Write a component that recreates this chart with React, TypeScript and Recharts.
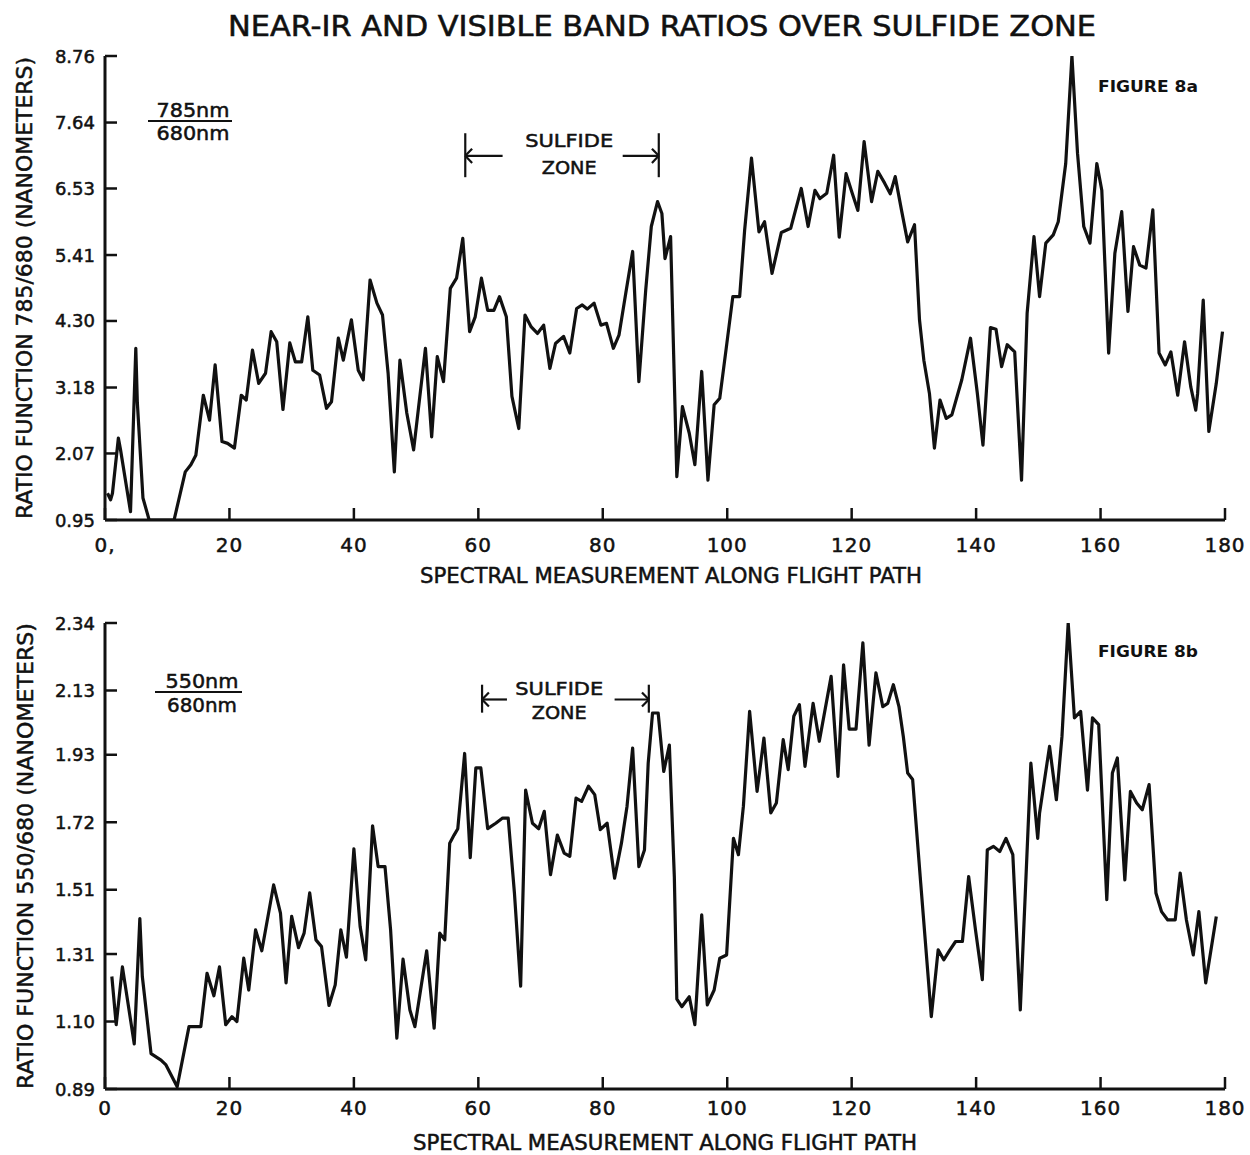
import React from 'react';
import { LineChart, Line, XAxis, YAxis, ReferenceLine, ReferenceDot } from 'recharts';

// ---------- data ----------
const xTicks = [0, 20, 40, 60, 80, 100, 120, 140, 160, 180];
const topXTickLabels = ['0,', '20', '40', '60', '80', '100', '120', '140', '160', '180'];
const bottomXTickLabels = ['0', '20', '40', '60', '80', '100', '120', '140', '160', '180'];
const topYTicks = [0.95, 2.07, 3.18, 4.3, 5.41, 6.53, 7.64, 8.76];
const bottomYTicks = [0.89, 1.1, 1.31, 1.51, 1.72, 1.93, 2.13, 2.34];

// Figure 8a : 785nm / 680nm
const topX = [
  0.4, 0.9, 1.2, 2.15, 2.5, 4.1, 4.95, 5.2, 6.1, 7.1, 11.1, 12.9, 13.8, 14.6, 15.8, 16.8, 17.7, 18.8, 19.7, 20.8,
  21.9, 22.7, 23.7, 24.7, 25.8, 26.7, 27.6, 28.6, 29.7, 30.6, 31.6, 32.6, 33.4, 34.5, 35.6, 36.4, 37.5, 38.3, 39.6, 40.7,
  41.5, 42.6, 43.7, 44.6, 45.5, 46.5, 47.4, 48.5, 49.6, 51.5, 52.5, 53.4, 54.4, 55.5, 56.5, 57.5, 58.6, 59.5, 60.5, 61.5,
  62.5, 63.4, 64.5, 65.4, 66.5, 67.5, 68.5, 69.5, 70.5, 71.5, 72.4, 73.7, 74.7, 75.8, 76.7, 77.5, 78.6, 79.7, 80.6, 81.7,
  82.6, 83.7, 84.8, 85.8, 86.9, 87.8, 88.8, 89.5, 90.0, 90.9, 91.9, 92.8, 93.9, 94.8, 95.9, 96.9, 97.9, 98.8, 99.8, 100.9,
  102.0, 102.8, 103.9, 105.1, 106.0, 107.2, 108.7, 110.2, 111.9, 113.0, 114.1, 114.9, 116.0, 117.1, 118.0, 119.1, 120.0, 121.0, 122.0, 123.2,
  124.2, 125.3, 126.2, 127.0, 128.0, 129.0, 130.1, 130.9, 131.6, 132.5, 133.3, 134.2, 135.2, 136.1, 137.7, 139.1, 140.2, 141.1, 142.3, 143.2,
  144.1, 145.0, 146.2, 147.3, 148.2, 149.3, 150.2, 151.2, 152.4, 153.2, 154.4, 155.4, 156.3, 157.3, 158.3, 159.4, 160.2, 161.3, 162.3, 163.4,
  164.4, 165.3, 166.3, 167.3, 168.4, 169.4, 170.4, 171.3, 172.4, 173.5, 174.5, 175.3, 175.6, 176.5, 177.4, 178.6, 179.6,
];
const topRatio = [
  1.4, 1.29, 1.4, 2.33, 2.13, 1.09, 3.84, 2.92, 1.32, 0.95, 0.95, 1.76, 1.88, 2.04, 3.05, 2.63, 3.56, 2.27, 2.24, 2.16,
  3.05, 2.97, 3.81, 3.25, 3.42, 4.12, 3.95, 2.81, 3.93, 3.61, 3.61, 4.37, 3.47, 3.39, 2.83, 2.94, 4.01, 3.64, 4.32, 3.47,
  3.31, 4.99, 4.6, 4.4, 3.42, 1.76, 3.64, 2.75, 2.13, 3.84, 2.35, 3.7, 3.28, 4.85, 5.02, 5.69, 4.12, 4.37, 5.02, 4.48,
  4.48, 4.71, 4.37, 3.03, 2.49, 4.4, 4.2, 4.09, 4.23, 3.5, 3.92, 4.04, 3.76, 4.51, 4.57, 4.5, 4.6, 4.23, 4.26, 3.84,
  4.06, 4.77, 5.47, 3.28, 4.82, 5.89, 6.31, 6.11, 5.35, 5.72, 1.68, 2.86, 2.41, 1.88, 3.45, 1.62, 2.89, 3.0, 3.81, 4.71,
  4.71, 5.83, 7.04, 5.8, 5.97, 5.1, 5.79, 5.86, 6.53, 5.89, 6.5, 6.36, 6.45, 7.09, 5.71, 6.78, 6.48, 6.16, 7.32, 6.31,
  6.82, 6.62, 6.44, 6.73, 6.17, 5.63, 5.92, 4.32, 3.64, 3.08, 2.16, 2.97, 2.66, 2.72, 3.31, 4.01, 3.08, 2.21, 4.19, 4.16,
  3.53, 3.9, 3.78, 1.62, 4.43, 5.72, 4.71, 5.61, 5.75, 5.97, 6.95, 8.76, 7.12, 5.89, 5.61, 6.95, 6.5, 3.76, 5.44, 6.14,
  4.46, 5.55, 5.24, 5.19, 6.17, 3.76, 3.56, 3.78, 3.05, 3.95, 3.19, 2.8, 3.08, 4.65, 2.44, 3.25, 4.12,
];

// Figure 8b : 550nm / 680nm
const bottomX = [
  1.1, 1.8, 2.8, 4.7, 5.6, 6.0, 7.4, 9.0, 9.8, 11.6, 13.5, 15.4, 16.4, 17.5, 18.4, 19.4, 20.4, 21.2, 22.3, 23.1,
  24.2, 25.2, 27.1, 28.2, 29.1, 30.0, 31.1, 32.0, 32.9, 33.9, 34.8, 36.0, 37.0, 37.9, 38.8, 40.0, 41.0, 41.9, 43.0, 43.9,
  45.0, 45.9, 46.9, 47.9, 49.0, 49.8, 51.7, 52.9, 53.8, 54.6, 55.4, 56.1, 56.7, 57.8, 58.7, 59.6, 60.4, 61.5, 62.8, 63.9,
  64.8, 65.8, 66.8, 67.6, 68.7, 69.7, 70.6, 71.6, 72.7, 73.8, 74.7, 75.7, 76.6, 77.7, 78.7, 79.6, 80.7, 81.9, 83.0, 83.9,
  84.8, 85.8, 86.7, 87.3, 88.0, 88.9, 89.8, 90.7, 91.5, 91.9, 92.7, 93.9, 94.8, 95.9, 96.8, 97.9, 98.8, 99.9, 101.0, 101.8,
  102.6, 103.6, 104.8, 105.9, 107.0, 107.9, 109.0, 109.8, 110.7, 111.6, 112.5, 113.8, 114.8, 116.7, 117.8, 118.7, 119.6, 120.7, 121.8, 122.8,
  123.9, 125.0, 125.8, 126.7, 127.6, 128.3, 129.0, 129.8, 131.1, 132.8, 133.9, 134.8, 135.8, 136.7, 137.8, 138.8, 139.9, 141.0, 141.8, 142.8,
  143.8, 144.8, 145.9, 147.1, 148.8, 149.9, 150.2, 151.8, 152.9, 153.8, 154.8, 155.8, 156.8, 157.9, 158.7, 159.7, 161.0, 161.9, 162.7, 163.9,
  164.8, 165.8, 166.7, 167.8, 168.9, 169.8, 170.8, 172.0, 172.8, 173.8, 174.9, 175.8, 176.9, 178.6,
];
const bottomRatio = [
  1.24, 1.09, 1.27, 1.03, 1.42, 1.24, 1.0, 0.98, 0.965, 0.897, 1.084, 1.084, 1.25, 1.18, 1.27, 1.09, 1.115, 1.1, 1.297, 1.198,
  1.385, 1.32, 1.525, 1.437, 1.22, 1.427, 1.33, 1.375, 1.5, 1.354, 1.333, 1.15, 1.214, 1.385, 1.3, 1.637, 1.396, 1.292, 1.709, 1.582,
  1.582, 1.385, 1.048, 1.294, 1.136, 1.084, 1.32, 1.079, 1.375, 1.354, 1.655, 1.68, 1.7, 1.934, 1.61, 1.889, 1.889, 1.7, 1.717, 1.733,
  1.733, 1.5, 1.21, 1.82, 1.717, 1.7, 1.754, 1.557, 1.68, 1.624, 1.614, 1.795, 1.785, 1.832, 1.806, 1.697, 1.717, 1.546, 1.655, 1.77,
  1.951, 1.582, 1.634, 1.904, 2.06, 2.06, 1.878, 1.96, 1.551, 1.17, 1.146, 1.177, 1.09, 1.432, 1.152, 1.198, 1.297, 1.307, 1.67, 1.619,
  1.77, 2.065, 1.816, 1.982, 1.749, 1.78, 1.977, 1.884, 2.05, 2.086, 1.894, 2.09, 1.972, 2.174, 1.863, 2.21, 2.01, 2.01, 2.278, 1.96,
  2.185, 2.08, 2.09, 2.148, 2.08, 1.987, 1.873, 1.853, 1.53, 1.115, 1.323, 1.292, 1.323, 1.349, 1.349, 1.551, 1.385, 1.23, 1.634, 1.645,
  1.629, 1.67, 1.619, 1.136, 1.904, 1.67, 1.749, 1.956, 1.79, 1.987, 2.34, 2.045, 2.065, 1.82, 2.045, 2.024, 1.479, 1.873, 1.92, 1.541,
  1.816, 1.78, 1.759, 1.837, 1.5, 1.442, 1.416, 1.416, 1.562, 1.416, 1.307, 1.442, 1.22, 1.427,
];

// sulfide-zone bracket annotations (data coordinates)
const topZone = { left: 57.9, right: 89.0, leftArrowEnd: 63.9, rightArrowStart: 83.2, barLow: 6.72, barHigh: 7.46, arrowY: 7.08, textX: 74.6, sulfideY: 7.33, zoneY: 6.88, headDx: 1.1, headDy: 0.12 };
const bottomZone = { left: 60.6, right: 87.4, leftArrowEnd: 64.6, rightArrowStart: 81.9, barLow: 2.061, barHigh: 2.148, arrowY: 2.102, textX: 73.0, sulfideY: 2.137, zoneY: 2.06, headDx: 1.1, headDy: 0.022 };

// ---------- styling ----------
const FONT = '"DejaVu Sans", "Liberation Sans", sans-serif';
const NARROW = '"Liberation Sans Narrow", "DejaVu Sans Condensed", "DejaVu Sans", sans-serif';
const INK = '#111';
const TEXT_STROKE = 0.5;
const TICK_LEN = 12;
const TICK_W = 2.5;
const PLOT_LEFT = 105;
const RIGHT_MARGIN = 25;
const CHART_W = 1250;
const PLOT_RIGHT = CHART_W - RIGHT_MARGIN;

type Zone = typeof topZone;

type PanelProps = {
  xs: number[];
  ys: number[];
  yTicks: number[];
  xTickLabels: string[];
  yTitle: string;
  zone: Zone;
  height: number;
  marginTop: number;
  plotHeight: number;
  xLabelTop: number;
  xTitleDx: number;
  xTitleDy: number;
  xTitleLen: number;
  yTitleLen: number;
  yTitleX: number;
};

const textInk = { fill: INK, stroke: INK, strokeWidth: TEXT_STROKE };

function Panel(p: PanelProps) {
  const data = p.xs.map((x, i) => ({ x, v: p.ys[i] }));
  const yDomain = [p.yTicks[0], p.yTicks[p.yTicks.length - 1]];
  const xAxisHeight = p.height - p.marginTop - p.plotHeight;
  const axisLine = { stroke: INK, strokeWidth: 3 };
  const z = p.zone;
  const plotTop = p.marginTop;
  const plotBottom = p.marginTop + p.plotHeight;

  const bottomTick = (tp: any) => {
    const x = tp.payload && tp.payload.coordinate != null ? tp.payload.coordinate : tp.x;
    const idx = xTicks.indexOf(tp.payload.value);
    const label = idx >= 0 ? p.xTickLabels[idx] : String(tp.payload.value);
    return (
      <g>
        <line x1={x} y1={plotBottom} x2={x} y2={plotBottom - TICK_LEN} stroke={INK} strokeWidth={TICK_W} />
        <text x={x} y={plotBottom + p.xLabelTop + 14.5} textAnchor="middle" fontFamily={FONT} fontSize={20} letterSpacing={1} {...textInk}>
          {label}
        </text>
      </g>
    );
  };
  const topTick = (tp: any) => {
    const x = tp.payload && tp.payload.coordinate != null ? tp.payload.coordinate : tp.x;
    return <line x1={x} y1={plotTop} x2={x} y2={plotTop + TICK_LEN} stroke={INK} strokeWidth={TICK_W} />;
  };
  const leftTick = (tp: any) => {
    const y = tp.payload && tp.payload.coordinate != null ? tp.payload.coordinate : tp.y;
    return (
      <g>
        <line x1={PLOT_LEFT} y1={y} x2={PLOT_LEFT + TICK_LEN} y2={y} stroke={INK} strokeWidth={TICK_W} />
        <text x={PLOT_LEFT - 10} y={y + 6.5} textAnchor="end" fontFamily={FONT} fontSize={18} {...textInk}>
          {Number(tp.payload.value).toFixed(2)}
        </text>
      </g>
    );
  };
  const rightTick = (tp: any) => {
    const y = tp.payload && tp.payload.coordinate != null ? tp.payload.coordinate : tp.y;
    return <line x1={PLOT_RIGHT} y1={y} x2={PLOT_RIGHT - TICK_LEN} y2={y} stroke={INK} strokeWidth={TICK_W} />;
  };

  const seg = (x1: number, y1: number, x2: number, y2: number, key: string) => (
    <ReferenceLine
      key={key}
      segment={[{ x: x1, y: y1 }, { x: x2, y: y2 }]}
      stroke={INK}
      strokeWidth={2.2}
      ifOverflow="visible"
    />
  );
  const zoneText = (x: number, y: number, text: string, len: number, key: string) => (
    <ReferenceDot
      key={key}
      x={x}
      y={y}
      r={0}
      fill="none"
      stroke="none"
      ifOverflow="visible"
      label={{
        content: (lp: any) => {
          const vb = lp.viewBox || { x: 0, y: 0, width: 0, height: 0 };
          return (
            <text
              x={vb.x + (vb.width || 0) / 2}
              y={vb.y + (vb.height || 0) / 2 + 6.5}
              textAnchor="middle"
              fontFamily={FONT}
              fontSize={18}
              {...textInk}
              textLength={len}
              lengthAdjust="spacingAndGlyphs"
            >
              {text}
            </text>
          );
        },
      }}
    />
  );

  return (
    <LineChart
      width={CHART_W}
      height={p.height}
      data={data}
      margin={{ top: p.marginTop, right: RIGHT_MARGIN, bottom: 0, left: 0 }}
    >
      <XAxis
        xAxisId={0}
        dataKey="x"
        type="number"
        domain={[0, 180]}
        ticks={xTicks}
        interval={0}
        allowDataOverflow
        height={xAxisHeight}
        tick={bottomTick}
        tickLine={false}
        axisLine={axisLine}
        label={{
          content: (lp: any) => {
            const vb = lp.viewBox;
            return (
              <text
                x={vb.x + vb.width / 2 + p.xTitleDx}
                y={plotBottom + p.xTitleDy}
                textAnchor="middle"
                fontFamily={FONT}
                fontSize={21}
                {...textInk}
                textLength={p.xTitleLen}
                lengthAdjust="spacingAndGlyphs"
              >
                SPECTRAL MEASUREMENT ALONG FLIGHT PATH
              </text>
            );
          },
        }}
      />
      <XAxis
        xAxisId="top"
        orientation="top"
        dataKey="x"
        type="number"
        domain={[0, 180]}
        ticks={xTicks}
        interval={0}
        allowDataOverflow
        height={0}
        tick={topTick}
        tickLine={false}
        axisLine={axisLine}
      />
      <YAxis
        yAxisId={0}
        type="number"
        domain={yDomain}
        ticks={p.yTicks}
        interval={0}
        allowDataOverflow
        width={PLOT_LEFT}
        tick={leftTick}
        tickLine={false}
        axisLine={axisLine}
        label={{
          content: () => {
            const cx = p.yTitleX;
            const cy = (plotTop + plotBottom) / 2;
            return (
              <text
                x={cx}
                y={cy}
                transform={`rotate(-90 ${cx} ${cy})`}
                textAnchor="middle"
                fontFamily={FONT}
                fontSize={22}
                {...textInk}
                textLength={p.yTitleLen}
                lengthAdjust="spacingAndGlyphs"
              >
                {p.yTitle}
              </text>
            );
          },
        }}
      />
      <YAxis
        yAxisId="right"
        orientation="right"
        type="number"
        domain={yDomain}
        ticks={p.yTicks}
        interval={0}
        allowDataOverflow
        width={0}
        tick={rightTick}
        tickLine={false}
        axisLine={axisLine}
      />
      <Line
        type="linear"
        dataKey="v"
        stroke={INK}
        strokeWidth={3.2}
        strokeLinejoin="round"
        dot={false}
        activeDot={false}
        isAnimationActive={false}
      />
      {seg(z.left, z.barLow, z.left, z.barHigh, 'lb')}
      {seg(z.right, z.barLow, z.right, z.barHigh, 'rb')}
      {seg(z.left, z.arrowY, z.leftArrowEnd, z.arrowY, 'la')}
      {seg(z.rightArrowStart, z.arrowY, z.right, z.arrowY, 'ra')}
      {seg(z.left, z.arrowY, z.left + z.headDx, z.arrowY + z.headDy, 'lh1')}
      {seg(z.left, z.arrowY, z.left + z.headDx, z.arrowY - z.headDy, 'lh2')}
      {seg(z.right, z.arrowY, z.right - z.headDx, z.arrowY + z.headDy, 'rh1')}
      {seg(z.right, z.arrowY, z.right - z.headDx, z.arrowY - z.headDy, 'rh2')}
      {zoneText(z.textX, z.sulfideY, 'SULFIDE', 88, 'st')}
      {zoneText(z.textX, z.zoneY, 'ZONE', 55, 'zt')}
    </LineChart>
  );
}

export default function App() {
  return (
    <div
      style={{
        position: 'absolute',
        left: 0,
        top: 0,
        width: 1250,
        height: 1155,
        background: '#fff',
        overflow: 'hidden',
      }}
    >
      <div style={{ position: 'absolute', left: 0, top: 0, width: 1250, height: 600 }}>
        <Panel
          xs={topX}
          ys={topRatio}
          yTicks={topYTicks}
          xTickLabels={topXTickLabels}
          yTitle="RATIO FUNCTION 785/680 (NANOMETERS)"
          zone={topZone}
          height={600}
          marginTop={56}
          plotHeight={464}
          xLabelTop={17}
          xTitleDx={6}
          xTitleDy={63}
          xTitleLen={502}
          yTitleLen={462}
          yTitleX={32}
        />
      </div>
      <div style={{ position: 'absolute', left: 0, top: 580, width: 1250, height: 575 }}>
        <Panel
          xs={bottomX}
          ys={bottomRatio}
          yTicks={bottomYTicks}
          xTickLabels={bottomXTickLabels}
          yTitle="RATIO FUNCTION 550/680 (NANOMETERS)"
          zone={bottomZone}
          height={575}
          marginTop={43}
          plotHeight={466}
          xLabelTop={11}
          xTitleDx={0}
          xTitleDy={61}
          xTitleLen={504}
          yTitleLen={466}
          yTitleX={33}
        />
      </div>
      <svg
        width={1250}
        height={1155}
        style={{ position: 'absolute', left: 0, top: 0, pointerEvents: 'none' }}
      >
        <text
          x={662}
          y={36}
          textAnchor="middle"
          fontFamily={NARROW}
          fontSize={28}
          {...textInk}
          textLength={868}
          lengthAdjust="spacingAndGlyphs"
        >
          NEAR-IR AND VISIBLE BAND RATIOS OVER SULFIDE ZONE
        </text>

        <text x={193} y={116.5} textAnchor="middle" fontFamily={FONT} fontSize={19} {...textInk} textLength={73} lengthAdjust="spacingAndGlyphs">785nm</text>
        <line x1={148} y1={121} x2={232} y2={121} stroke={INK} strokeWidth={2} />
        <text x={193} y={140} textAnchor="middle" fontFamily={FONT} fontSize={19} {...textInk} textLength={73} lengthAdjust="spacingAndGlyphs">680nm</text>
        <text x={1148} y={92} textAnchor="middle" fontFamily={FONT} fontSize={15} fontWeight="bold" fill={INK} textLength={100} lengthAdjust="spacingAndGlyphs">FIGURE 8a</text>

        <text x={202} y={688} textAnchor="middle" fontFamily={FONT} fontSize={19} {...textInk} textLength={73} lengthAdjust="spacingAndGlyphs">550nm</text>
        <line x1={155} y1={692} x2={242} y2={692} stroke={INK} strokeWidth={2} />
        <text x={202} y={712} textAnchor="middle" fontFamily={FONT} fontSize={19} {...textInk} textLength={70} lengthAdjust="spacingAndGlyphs">680nm</text>
        <text x={1148} y={657} textAnchor="middle" fontFamily={FONT} fontSize={15} fontWeight="bold" fill={INK} textLength={100} lengthAdjust="spacingAndGlyphs">FIGURE 8b</text>
      </svg>
    </div>
  );
}
